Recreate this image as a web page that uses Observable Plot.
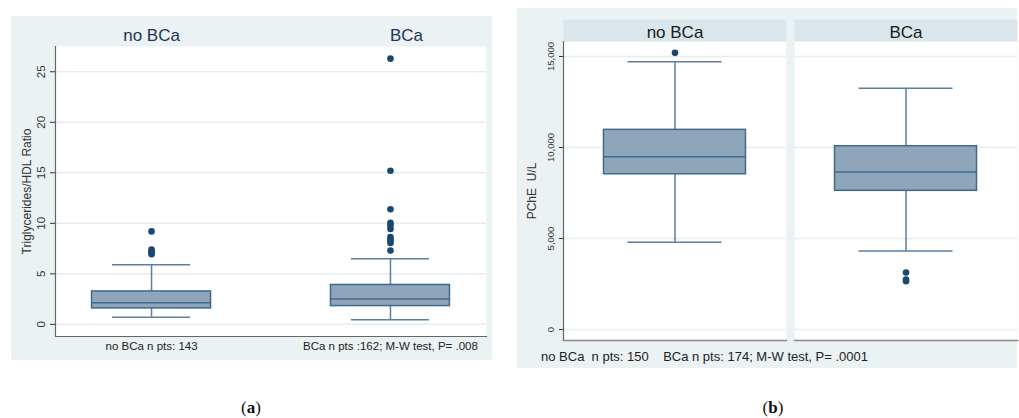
<!DOCTYPE html>
<html>
<head>
<meta charset="utf-8">
<script src="https://cdn.jsdelivr.net/npm/d3@7"></script>
<script src="https://cdn.jsdelivr.net/npm/@observablehq/plot@0.6"></script>
<style>
  html, body { margin: 0; padding: 0; background: #ffffff; }
  #root { position: relative; width: 1019px; height: 418px; overflow: hidden; font-family: "Liberation Sans", Arial, sans-serif; }
  .panel { position: absolute; }
  .tag { position: absolute; font-family: "Liberation Serif", "DejaVu Serif", serif; font-size: 17px; color: #111; transform: translate(-50%, -50%); }
  .cap { position: absolute; font-size: 13px; color: #222; white-space: pre; }
</style>
</head>
<body>
<div id="root">
  <div class="panel" id="pa" style="left:11px; top:16px;"></div>
  <div class="panel" id="pb" style="left:517px; top:8px;"></div>
  <div class="cap" style="left:541px; top:349px;">no BCa  n pts: 150    BCa n pts: 174; M-W test, P= .0001</div>
  <div class="tag" style="left:251px; top:408px;">(<b>a</b>)</div>
  <div class="tag" style="left:773px; top:408px;">(<b>b</b>)</div>
</div>
<script>
// ---------- data ----------
const groups = ["no BCa", "BCa"];

// Panel (a): Triglycerides/HDL ratio
const tgQ1 = [1.58, 1.81];
const tgMedian = [2.15, 2.5];
const tgQ3 = [3.26, 3.9];
const tgLow = [0.7, 0.46];
const tgHigh = [5.9, 6.5];
const tgOutGroup = ["no BCa", "no BCa", "no BCa", "no BCa", "no BCa",
  "BCa", "BCa", "BCa", "BCa", "BCa", "BCa", "BCa", "BCa", "BCa", "BCa", "BCa"];
const tgOutValue = [9.2, 7.4, 7.25, 7.1, 6.95,
  26.3, 15.2, 11.4, 10.05, 9.8, 9.45, 8.65, 8.45, 8.25, 8.05, 7.3];
const tgTicks = [0, 5, 10, 15, 20, 25];
const tgBottomLabels = ["no BCa n pts: 143", "BCa n pts :162; M-W test, P= .008"];

// Panel (b): PChE U/L
const peQ1 = [8530, 7620];
const peMedian = [9490, 8660];
const peQ3 = [10970, 10070];
const peLow = [4800, 4320];
const peHigh = [14710, 13260];
const peOutGroup = ["no BCa", "BCa", "BCa", "BCa"];
const peOutValue = [15200, 3130, 2750, 2650];
const peTicks = [0, 5000, 10000, 15000];

// ---------- styles ----------
const BG = "#eaf2f3";
const BOXFILL = "#8ea5ba";
const BOXSTROKE = "#3f6a8e";
const WHISK = "#5a7fa0";
const DOT = "#1a476f";
const GRID = "#e4edf0";
const AXIS = "#666";
const idx = groups.map((_, i) => i);

// ---------- panel (a) ----------
const pa = Plot.plot({
  width: 481, height: 344,
  marginTop: 30, marginLeft: 44, marginRight: 6, marginBottom: 24,
  style: {background: BG, fontFamily: "Liberation Sans, Arial, sans-serif", overflow: "visible"},
  x: {type: "band", domain: groups, paddingInner: 0.502, paddingOuter: 0.153, round: false, axis: null},
  y: {domain: [-1.2, 27.5], axis: null},
  marks: [
    Plot.frame({fill: "white"}),
    Plot.gridY(tgTicks, {stroke: GRID, strokeOpacity: 1, strokeWidth: 1.5}),
    Plot.axisY(tgTicks, {tickRotate: -90, tickSize: 5, tickPadding: 6, fontSize: 11.5, color: "#333",
      label: "Triglycerides/HDL Ratio", labelAnchor: "center", labelOffset: 33, labelArrow: "none"}),
    Plot.frame({anchor: "left", stroke: AXIS, strokeWidth: 1.2}),
    Plot.frame({anchor: "bottom", stroke: AXIS, strokeWidth: 1.2}),
    Plot.axisX({anchor: "top", ticks: ["no BCa"], tickSize: 0, tickPadding: 6, fontSize: 17, color: "#1f3553", label: null}),
    Plot.axisX({anchor: "top", ticks: ["BCa"], tickSize: 0, tickPadding: 6, fontSize: 17, color: "#1f3553", label: null, dx: 16}),
    Plot.axisX({anchor: "bottom", tickSize: 0, tickPadding: 5, fontSize: 11.5, color: "#222", label: null,
      tickFormat: d => tgBottomLabels[groups.indexOf(d)]}),
    Plot.ruleX(idx, {x: i => groups[i], y1: i => tgLow[i], y2: i => tgQ1[i], stroke: WHISK, strokeWidth: 1.5}),
    Plot.ruleX(idx, {x: i => groups[i], y1: i => tgQ3[i], y2: i => tgHigh[i], stroke: WHISK, strokeWidth: 1.5}),
    Plot.tickY(idx, {x: i => groups[i], y: i => tgLow[i], stroke: WHISK, strokeWidth: 1.5, insetLeft: 20.5, insetRight: 20.5}),
    Plot.tickY(idx, {x: i => groups[i], y: i => tgHigh[i], stroke: WHISK, strokeWidth: 1.5, insetLeft: 20.5, insetRight: 20.5}),
    Plot.barY(idx, {x: i => groups[i], y1: i => tgQ1[i], y2: i => tgQ3[i], fill: BOXFILL, stroke: BOXSTROKE, strokeWidth: 1.5}),
    Plot.tickY(idx, {x: i => groups[i], y: i => tgMedian[i], stroke: BOXSTROKE, strokeWidth: 1.5}),
    Plot.dot(tgOutValue.map((_, i) => i), {x: i => tgOutGroup[i], y: i => tgOutValue[i], r: 3.3, fill: DOT})
  ]
});
d3.select(pa).selectAll('[aria-label="y-axis label"]').attr("font-size", 12).selectAll("text").attr("font-size", 12);
document.getElementById("pa").appendChild(pa);

// ---------- panel (b) ----------
const pb = Plot.plot({
  width: 500, height: 360,
  marginTop: 33, marginLeft: 46, marginRight: 0, marginBottom: 28,
  style: {background: BG, fontFamily: "Liberation Sans, Arial, sans-serif", overflow: "visible"},
  fx: {domain: groups, paddingInner: 0.035, paddingOuter: 0, round: false, axis: null},
  x: {type: "band", domain: ["v"], paddingInner: 0, paddingOuter: 0.285, round: false, axis: null},
  y: {domain: [-604, 15824], axis: null},
  marks: [
    Plot.frame({fill: "#d9e6ec", insetTop: -22}),
    Plot.frame({fill: "white"}),
    Plot.gridY(peTicks, {stroke: GRID, strokeOpacity: 1, strokeWidth: 1.5}),
    Plot.axisY(peTicks, {tickRotate: -90, tickSize: 4, tickPadding: 6, fontSize: 9.5, color: "#333",
      tickFormat: d3.format(","),
      label: "PChE\u00a0\u00a0U/L", labelAnchor: "center", labelOffset: 36, labelArrow: "none"}),
    Plot.frame({anchor: "left", stroke: AXIS, strokeWidth: 1.2, facetAnchor: "left"}),
    Plot.frame({anchor: "bottom", stroke: "#888", strokeWidth: 1.6}),
    Plot.axisFx({anchor: "top", tickSize: 0, tickPadding: 4, fontSize: 17, color: "#1a1a1a", label: null}),
    Plot.ruleX(idx, {fx: i => groups[i], x: () => "v", y1: i => peLow[i], y2: i => peQ1[i], stroke: WHISK, strokeWidth: 1.5}),
    Plot.ruleX(idx, {fx: i => groups[i], x: () => "v", y1: i => peQ3[i], y2: i => peHigh[i], stroke: WHISK, strokeWidth: 1.5}),
    Plot.tickY(idx, {fx: i => groups[i], x: () => "v", y: i => peLow[i], stroke: WHISK, strokeWidth: 1.5, insetLeft: 24, insetRight: 24}),
    Plot.tickY(idx, {fx: i => groups[i], x: () => "v", y: i => peHigh[i], stroke: WHISK, strokeWidth: 1.5, insetLeft: 24, insetRight: 24}),
    Plot.barY(idx, {fx: i => groups[i], x: () => "v", y1: i => peQ1[i], y2: i => peQ3[i], fill: BOXFILL, stroke: BOXSTROKE, strokeWidth: 1.5}),
    Plot.tickY(idx, {fx: i => groups[i], x: () => "v", y: i => peMedian[i], stroke: BOXSTROKE, strokeWidth: 1.5}),
    Plot.dot(peOutValue.map((_, i) => i), {fx: i => peOutGroup[i], x: () => "v", y: i => peOutValue[i], r: 3.3, fill: DOT})
  ]
});
d3.select(pb).selectAll('[aria-label="y-axis label"]').attr("font-size", 12).selectAll("text").attr("font-size", 12);
document.getElementById("pb").appendChild(pb);
</script>
</body>
</html>
